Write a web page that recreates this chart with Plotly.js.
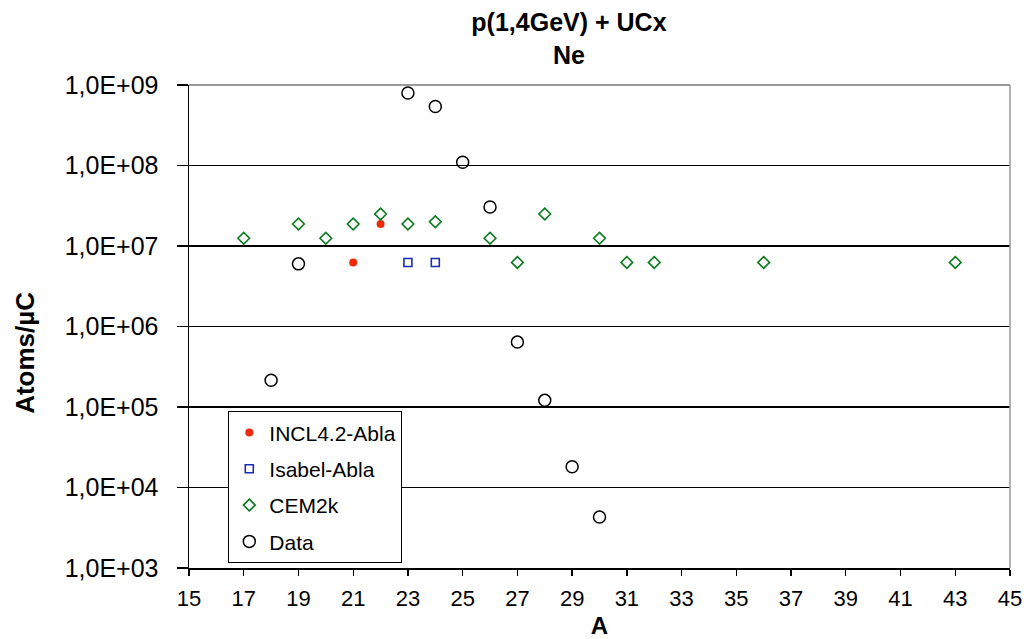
<!DOCTYPE html>
<html>
<head>
<meta charset="utf-8">
<script src="https://cdn.plot.ly/plotly-3.0.1.min.js"></script>
<style>html,body{margin:0;padding:0;background:#fff;}#chart{width:1027px;height:639px;}</style>
</head>
<body>
<div id="chart"></div>
<script>
// ---- data ----
const inclA = [21, 22];
const inclY = [6.25e6, 1.875e7];

const isabelA = [23, 24];
const isabelY = [6.25e6, 6.25e6];

const cemA = [17, 19, 20, 21, 22, 23, 24, 26, 27, 28, 30, 31, 32, 36, 43];
const cemY = [1.25e7, 1.875e7, 1.25e7, 1.875e7, 2.5e7, 1.875e7, 2.0e7, 1.25e7, 6.25e6, 2.5e7, 1.25e7, 6.25e6, 6.25e6, 6.25e6, 6.25e6];

const dataA = [18, 19, 23, 24, 25, 26, 27, 28, 29, 30];
const dataY = [2.15e5, 6.0e6, 7.95e8, 5.4e8, 1.1e8, 3.05e7, 6.4e5, 1.21e5, 1.81e4, 4.3e3];

const seriesNames = ['INCL4.2-Abla', 'Isabel-Abla', 'CEM2k', 'Data'];

const xTickVals = [15, 17, 19, 21, 23, 25, 27, 29, 31, 33, 35, 37, 39, 41, 43, 45];
const yTickVals = [1e3, 1e4, 1e5, 1e6, 1e7, 1e8, 1e9];
const yTickText = ['1,0E+03', '1,0E+04', '1,0E+05', '1,0E+06', '1,0E+07', '1,0E+08', '1,0E+09'];

const titleText = 'p(1,4GeV) + UCx<br>Ne';
const xTitle = 'A';
const yTitle = 'Atoms/µC';

const FONT = 'Liberation Sans, Arial, Helvetica, sans-serif';

const traces = [
  {x: inclA, y: inclY, name: seriesNames[0], legendgroup: 'g1', type: 'scatter', mode: 'markers',
   marker: {symbol: 'circle', size: 8, color: '#ee2a0c', line: {width: 0}}},
  {x: isabelA, y: isabelY, name: seriesNames[1], legendgroup: 'g2', type: 'scatter', mode: 'markers',
   marker: {symbol: 'square-open', size: 8, color: '#1a2fb0', line: {width: 1.6, color: '#1a2fb0'}}},
  {x: cemA, y: cemY, name: seriesNames[2], legendgroup: 'g3', type: 'scatter', mode: 'markers',
   marker: {symbol: 'diamond-open', size: 9, color: '#0a7a1e', line: {width: 1.6, color: '#0a7a1e'}}},
  {x: dataA, y: dataY, name: seriesNames[3], legendgroup: 'g4', type: 'scatter', mode: 'markers',
   marker: {symbol: 'circle-open', size: 12, color: '#000', line: {width: 1.5, color: '#000'}}}
];

const layout = {
  width: 1027, height: 639,
  margin: {l: 189, r: 17, t: 85, b: 71, pad: 0},
  paper_bgcolor: '#fff', plot_bgcolor: '#fff',
  font: {family: FONT, color: '#000'},
  showlegend: true,
  title: {text: titleText, font: {family: FONT, size: 25, weight: 'bold', color: '#000'},
          x: 0.554, xref: 'container', xanchor: 'center', y: 1, yref: 'paper', yanchor: 'bottom',
          pad: {b: 54}},
  xaxis: {
    range: [15, 45], tickvals: xTickVals, ticktext: xTickVals.map(String),
    ticks: 'outside', ticklen: 6, tickwidth: 1.3, tickcolor: '#000',
    showline: true, linecolor: '#000', linewidth: 1.5, showgrid: false, zeroline: false,
    tickfont: {family: FONT, size: 22, color: '#000'}, ticklabelstandoff: 4,
    title: {text: xTitle, font: {family: FONT, size: 24, weight: 'bold', color: '#000'}, standoff: 7}
  },
  yaxis: {
    type: 'log', range: [3, 9], tickvals: yTickVals, ticktext: yTickText,
    ticks: 'outside', ticklen: 11, tickwidth: 1.3, tickcolor: '#000',
    showline: true, linecolor: '#000', linewidth: 1.5,
    showgrid: true, gridcolor: '#000', gridwidth: 1.3, zeroline: false,
    tickfont: {family: FONT, size: 25, color: '#000'}, ticklabelstandoff: 13
  },
  yaxis2: {
    type: 'log', range: [3, 9], overlaying: 'y', anchor: 'x', side: 'left',
    tickvals: yTickVals, ticks: 'inside', ticklen: 5, tickwidth: 1.3, tickcolor: '#000',
    showticklabels: false, showgrid: false, showline: false, zeroline: false
  },
  legend: {
    x: 0.0475, y: 0.325, xanchor: 'left', yanchor: 'top',
    bgcolor: '#fff', bordercolor: '#000', borderwidth: 1.3,
    font: {family: FONT, size: 21, color: '#000'},
    traceorder: 'grouped', tracegroupgap: 6
  },
  shapes: [
    {type: 'line', xref: 'paper', yref: 'paper', x0: 0, x1: 1, y0: 1, y1: 1, layer: 'above', line: {color: '#999', width: 2}},
    {type: 'line', xref: 'paper', yref: 'paper', x0: 1, x1: 1, y0: 0, y1: 1, layer: 'above', line: {color: '#999', width: 1.5}}
  ],
  annotations: [
    {text: yTitle, textangle: -90, xref: 'paper', yref: 'paper', x: -0.2, y: 0.445,
     xanchor: 'center', yanchor: 'middle', showarrow: false,
     font: {family: FONT, size: 26, weight: 'bold', color: '#000'}}
  ]
};

Plotly.newPlot('chart', traces, layout, {displayModeBar: false, staticPlot: true});
</script>
</body>
</html>
